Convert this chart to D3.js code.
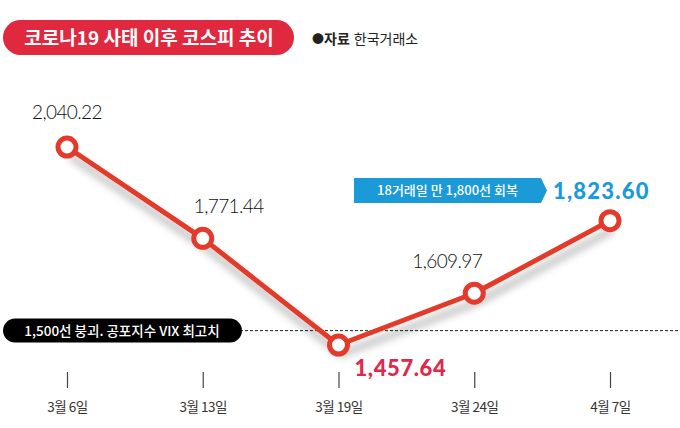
<!DOCTYPE html>
<html><head><meta charset="utf-8">
<script src="https://cdn.jsdelivr.net/npm/d3@7"></script>
<style>
body{margin:0;background:#fff;}
svg{display:block;}
</style></head>
<body><div id="chart"></div>
<script>
const categories = ["3월 6일","3월 13일","3월 19일","3월 24일","4월 7일"];
const values = [2040.22, 1771.44, 1457.64, 1609.97, 1823.60];
const valueLabels = ["2,040.22","1,771.44","1,457.64","1,609.97","1,823.60"];
const thresholdValue = 1500;
const title = "코로나19 사태 이후 코스피 추이";
const sourceLabel = "자료";
const sourceText = "한국거래소";
const thresholdNote = "1,500선 붕괴. 공포지수 VIX 최고치";
const recoveryNote = "18거래일 만 1,800선 회복";

const W = 680, H = 428;
const svg = d3.select("#chart").append("svg").attr("width", W).attr("height", H);
const KR = "'Noto Sans CJK KR','Noto Sans',sans-serif";
const NUM = "Lato,'Noto Sans',sans-serif";

const defs = svg.append("defs");
const f = defs.append("filter").attr("id","sh").attr("x","-20%").attr("y","-20%").attr("width","140%").attr("height","160%");
f.append("feGaussianBlur").attr("in","SourceAlpha").attr("stdDeviation",4).attr("result","b");
f.append("feOffset").attr("in","b").attr("dx",3).attr("dy",9).attr("result","o");
f.append("feComponentTransfer").attr("in","o").attr("result","oc").append("feFuncA").attr("type","linear").attr("slope",0.35);
const m = f.append("feMerge"); m.append("feMergeNode").attr("in","oc"); m.append("feMergeNode").attr("in","SourceGraphic");

const x = d3.scalePoint().domain(categories).range([67, 610]);
const y = d3.scaleLinear().domain([1400, 2100]).range([364.6, 126.7]);

// Title pill
svg.append("rect").attr("x",3).attr("y",20).attr("width",291).attr("height",35).attr("rx",17.5).attr("fill","#e0283f");
svg.append("text").attr("x",149).attr("y",44.5).attr("text-anchor","middle").attr("fill","#fff")
  .attr("font-family",KR).attr("font-weight",700).attr("font-size",19).text(title);
const src = svg.append("text").attr("x",312).attr("y",44).attr("font-family",KR).attr("font-size",14).attr("fill","#222");
src.append("tspan").attr("font-size",12).text("●");
src.append("tspan").attr("font-weight",700).text(sourceLabel);
src.append("tspan").attr("dx",4).text(sourceText);

// threshold line
const ty = y(thresholdValue);
svg.append("line").attr("x1",240).attr("x2",W).attr("y1",ty).attr("y2",ty)
  .attr("stroke","#222").attr("stroke-width",1).attr("stroke-dasharray","3,2");
svg.append("rect").attr("x",3).attr("y",ty-12).attr("width",239).attr("height",24).attr("rx",12).attr("fill","#000");
svg.append("text").attr("x",122).attr("y",ty+5).attr("text-anchor","middle").attr("fill","#fff")
  .attr("font-family",KR).attr("font-weight",500).attr("font-size",13.5).text(thresholdNote);

// x axis ticks
const ax = svg.append("g").attr("transform","translate(0,372)").call(d3.axisBottom(x).tickSize(16).tickPadding(14));
ax.select(".domain").remove();
ax.selectAll(".tick line").attr("stroke","#444").attr("stroke-width",1.2);
ax.selectAll(".tick text").attr("font-family",KR).attr("font-size",13.5).attr("fill","#333").attr("letter-spacing",-0.5);

// line
const line = d3.line().x((d,i)=>x(categories[i])).y(d=>y(d));
svg.append("path").datum(values).attr("d",line).attr("fill","none").attr("stroke","#e33a2b")
  .attr("stroke-width",5).attr("stroke-linejoin","round").attr("filter","url(#sh)");
svg.selectAll("circle.pt").data(values).join("circle").attr("class","pt")
  .attr("cx",(d,i)=>x(categories[i])).attr("cy",d=>y(d)).attr("r",9)
  .attr("fill","#fff").attr("stroke","#e33a2b").attr("stroke-width",5);

// value labels (normal ones)
const normal = [{i:0,dx:0,dy:-28},{i:1,dx:26,dy:-25},{i:3,dx:-27,dy:-25}];
normal.forEach(o=>{
  svg.append("text").attr("x",x(categories[o.i])+o.dx).attr("y",y(values[o.i])+o.dy)
    .attr("text-anchor","middle").attr("font-family",NUM).attr("font-weight",300)
    .attr("font-size",19).attr("fill","#111").attr("letter-spacing",-0.6).text(valueLabels[o.i]);
});
// min label
svg.append("text").attr("x",x(categories[2])+16).attr("y",y(values[2])+31)
  .attr("font-family",NUM).attr("font-weight",900).attr("font-size",22).attr("fill","#e0284a")
  .attr("letter-spacing",0.6).text(valueLabels[2]);

// recovery note
const bx0=354, bx1=541, by0=178, by1=203;
svg.append("path").attr("d",`M${bx0},${by0}H${bx1}L${bx1+6},${(by0+by1)/2}L${bx1},${by1}H${bx0}Z`).attr("fill","#1a9ad7");
svg.append("text").attr("x",(bx0+bx1)/2).attr("y",195).attr("text-anchor","middle").attr("fill","#fff")
  .attr("font-family",KR).attr("font-weight",500).attr("font-size",13).text(recoveryNote);
svg.append("text").attr("x",553).attr("y",199).attr("font-family",NUM).attr("font-weight",900)
  .attr("font-size",22).attr("fill","#1a9ad7").attr("letter-spacing",1.2).text(valueLabels[4]);
</script></body></html>
